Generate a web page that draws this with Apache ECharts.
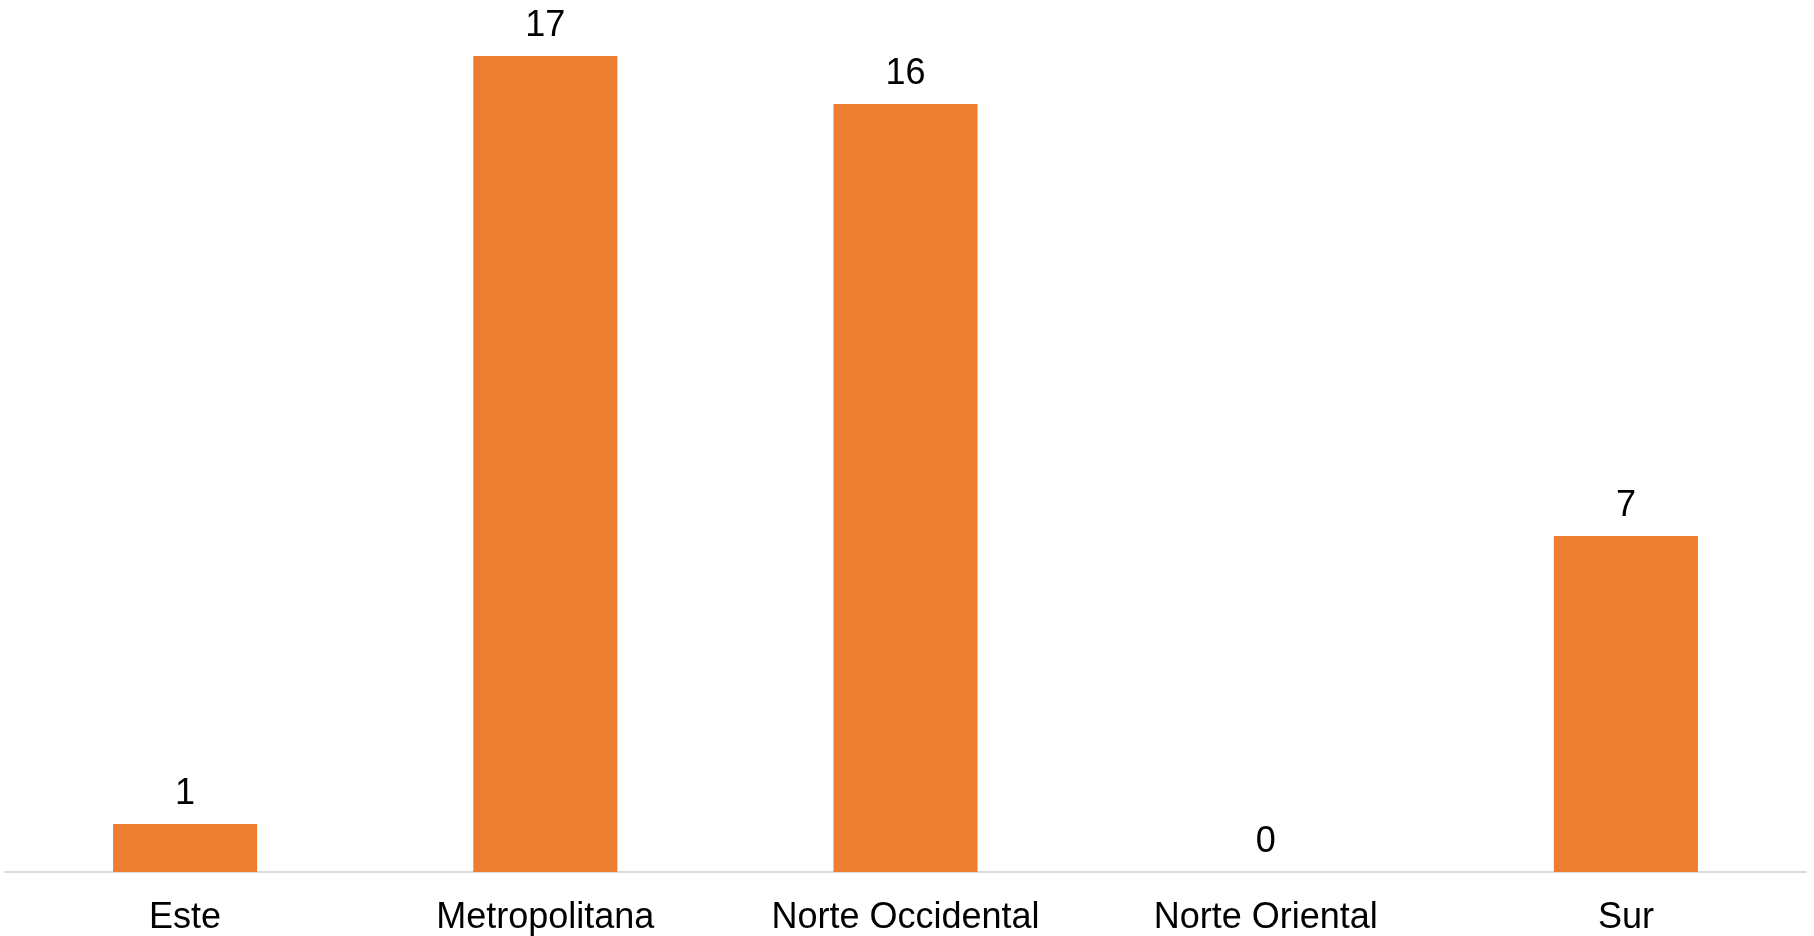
<!DOCTYPE html>
<html>
<head>
<meta charset="utf-8">
<script src="https://cdn.jsdelivr.net/npm/echarts@6/dist/echarts.min.js"></script>
<style>
    html, body { margin: 0; padding: 0; background: #fff; }
    #chart { width: 1814px; height: 936px; }
</style>
</head>
<body>
<div id="chart"></div>
<script>
const regiones = ['Este', 'Metropolitana', 'Norte Occidental', 'Norte Oriental', 'Sur']
const valores = [1, 17, 16, 0, 7]

const chartInstance = echarts.init(document.getElementById('chart'))
const opt = {
    animation: false,
    grid: {
        left: 5,
        right: 8,
        top: 56,
        bottom: 63
    },
    xAxis: {
        type: 'category',
        data: regiones,
        axisLine: { lineStyle: { color: '#d9dde3', width: 2 } },
        axisTick: { show: false },
        axisLabel: {
            color: '#000',
            fontSize: 36,
            fontFamily: 'Liberation Sans',
            margin: 28
        }
    },
    yAxis: {
        type: 'value',
        min: 0,
        max: 17,
        show: false,
        splitLine: { show: false }
    },
    series: [{
        type: 'bar',
        data: valores,
        barWidth: '40%',
        itemStyle: { color: '#ed7d31' },
        label: {
            show: true,
            position: 'top',
            distance: 12,
            color: '#000',
            fontSize: 36,
            fontFamily: 'Liberation Sans'
        }
    }]
}
chartInstance.setOption(opt)
</script>
</body>
</html>
